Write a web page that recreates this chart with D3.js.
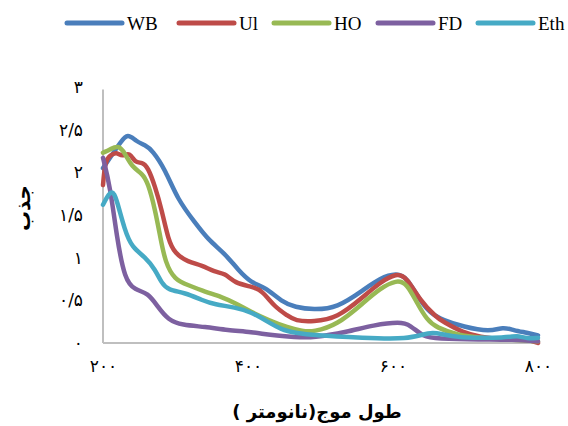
<!DOCTYPE html>
<html>
<head>
<meta charset="utf-8">
<script src="https://cdn.jsdelivr.net/npm/d3@7"></script>
<style>
  body { margin: 0; background: #fff; }
  svg { display: block; }
</style>
</head>
<body>
<div id="chart"></div>
<script>
// series names and colours
var seriesNames = ["WB", "Ul", "HO", "FD", "Eth"];
var seriesColors = ["#4a7ebb", "#be4b48", "#98b954", "#7d60a0", "#46aac5"];

// wavelength (nm) / absorbance pairs
var wbX  = [200, 212, 224, 234, 246, 258, 268, 286, 303, 327, 345, 368, 386, 405, 423, 447, 465, 490, 523, 559, 582, 605, 619, 637, 651, 669, 697, 734, 752, 766, 785, 800];
var wbY  = [2.05, 2.2, 2.35, 2.46, 2.36, 2.32, 2.26, 2.03, 1.68, 1.41, 1.21, 1.05, 0.86, 0.70, 0.66, 0.48, 0.42, 0.39, 0.41, 0.62, 0.76, 0.82, 0.77, 0.50, 0.35, 0.27, 0.19, 0.13, 0.19, 0.15, 0.12, 0.09];

var ulX  = [200, 203, 210, 219, 226, 237, 244, 254, 262, 272, 281, 290, 299, 317, 337, 354, 368, 382, 405, 419, 437, 455, 465, 490, 523, 559, 582, 605, 619, 637, 660, 669, 697, 720, 750, 785, 800];
var ulY  = [1.85, 2.14, 2.2, 2.24, 2.18, 2.24, 2.11, 2.12, 2.06, 1.83, 1.56, 1.21, 1.05, 0.95, 0.91, 0.83, 0.82, 0.70, 0.66, 0.62, 0.42, 0.32, 0.26, 0.25, 0.29, 0.54, 0.71, 0.82, 0.77, 0.50, 0.30, 0.25, 0.12, 0.07, 0.04, 0.05, 0.0];

var hoX  = [200, 210, 221, 230, 240, 254, 262, 272, 279, 286, 299, 317, 341, 364, 382, 405, 428, 455, 475, 490, 523, 559, 582, 605, 619, 633, 647, 660, 690, 720, 760, 800];
var hoY  = [2.23, 2.27, 2.32, 2.23, 2.06, 1.99, 1.88, 1.56, 1.24, 0.94, 0.74, 0.68, 0.60, 0.54, 0.47, 0.36, 0.27, 0.18, 0.14, 0.13, 0.21, 0.47, 0.64, 0.74, 0.70, 0.47, 0.27, 0.18, 0.09, 0.06, 0.04, 0.02];

var fdX  = [200, 210, 219, 230, 244, 262, 276, 290, 309, 341, 372, 405, 433, 465, 490, 537, 573, 610, 624, 642, 660, 720, 766, 800];
var fdY  = [2.17, 1.83, 1.24, 0.74, 0.62, 0.59, 0.42, 0.27, 0.21, 0.19, 0.15, 0.13, 0.09, 0.07, 0.06, 0.13, 0.21, 0.25, 0.21, 0.07, 0.05, 0.04, 0.04, 0.02];

var ethX = [200, 212, 219, 230, 240, 258, 272, 281, 290, 313, 337, 354, 382, 405, 423, 447, 465, 490, 559, 620, 651, 665, 687, 760, 770, 785, 800];
var ethY = [1.62, 1.82, 1.68, 1.32, 1.12, 1.01, 0.86, 0.70, 0.62, 0.59, 0.50, 0.45, 0.42, 0.36, 0.27, 0.15, 0.12, 0.09, 0.06, 0.04, 0.13, 0.11, 0.06, 0.06, 0.09, 0.05, 0.06];

var seriesX = [wbX, ulX, hoX, fdX, ethX];
var seriesY = [wbY, ulY, hoY, fdY, ethY];

var xTicks = [200, 400, 600, 800];
var xTickLabels = ["۲۰۰", "۴۰۰", "۶۰۰", "۸۰۰"];
var yTicks = [0, 0.5, 1, 1.5, 2, 2.5, 3];
var yTickLabels = ["۰", "۰/۵", "۱", "۱/۵", "۲", "۲/۵", "۳"];

var width = 568,
    height = 426;

var svg = d3.select("#chart").append("svg")
    .attr("width", width)
    .attr("height", height);

var x = d3.scaleLinear().domain([200, 800]).range([103, 538]);
var y = d3.scaleLinear().domain([0, 3]).range([343, 87]);

// axis lines (no ticks)
svg.append("line")
    .attr("x1", x(200)).attr("x2", x(200))
    .attr("y1", y(2.97)).attr("y2", y(0))
    .attr("stroke", "#bfbfbf").attr("stroke-width", 2);
svg.append("line")
    .attr("x1", x(200)).attr("x2", x(803))
    .attr("y1", y(0)).attr("y2", y(0))
    .attr("stroke", "#bfbfbf").attr("stroke-width", 2);

var xAxis = d3.axisBottom(x)
    .tickValues(xTicks)
    .tickSize(0)
    .tickPadding(17)
    .tickFormat(function(d, i) { return xTickLabels[i]; });

var yAxis = d3.axisLeft(y)
    .tickValues(yTicks)
    .tickSize(0)
    .tickPadding(20)
    .tickFormat(function(d, i) { return yTickLabels[i]; });

var gx = svg.append("g")
    .attr("transform", "translate(0," + y(0) + ")")
    .call(xAxis);
var gy = svg.append("g")
    .attr("transform", "translate(" + x(200) + ",0)")
    .call(yAxis);

[gx, gy].forEach(function(g) {
    g.select(".domain").remove();
    g.selectAll("text")
        .attr("font-family", "DejaVu Sans")
        .attr("font-size", 17)
        .attr("fill", "#000");
});

var line = d3.line()
    .x(function(d) { return x(d[0]); })
    .y(function(d) { return y(d[1]); })
    .curve(d3.curveBasis);

seriesNames.forEach(function(name, i) {
    var pts = seriesX[i].map(function(v, j) { return [v, seriesY[i][j]]; });
    svg.append("path")
        .datum(pts)
        .attr("fill", "none")
        .attr("stroke", seriesColors[i])
        .attr("stroke-width", 4.5)
        .attr("stroke-linejoin", "round")
        .attr("stroke-linecap", "round")
        .attr("d", line);
});

// legend
var legendX = [67, 179, 274, 378, 478];
var legend = svg.selectAll(".legend")
    .data(seriesNames)
    .enter().append("g")
    .attr("class", "legend")
    .attr("transform", function(d, i) { return "translate(" + legendX[i] + ",23)"; });

legend.append("line")
    .attr("x1", 0).attr("x2", 55)
    .attr("stroke", function(d, i) { return seriesColors[i]; })
    .attr("stroke-width", 5)
    .attr("stroke-linecap", "round");
legend.append("text")
    .attr("x", 60)
    .attr("y", 7)
    .attr("font-family", "Liberation Serif")
    .attr("font-size", 19)
    .text(function(d) { return d; });

// axis titles
svg.append("text")
    .attr("transform", "translate(30,208) rotate(-90)")
    .attr("text-anchor", "middle")
    .attr("font-family", "DejaVu Sans")
    .attr("font-weight", "bold")
    .attr("font-size", 20)
    .text("جذب");

svg.append("text")
    .attr("x", 317)
    .attr("y", 418)
    .attr("text-anchor", "middle")
    .attr("direction", "rtl")
    .attr("font-family", "DejaVu Sans")
    .attr("font-weight", "bold")
    .attr("font-size", 18)
    .text("طول موج(نانومتر )");
</script>
</body>
</html>
